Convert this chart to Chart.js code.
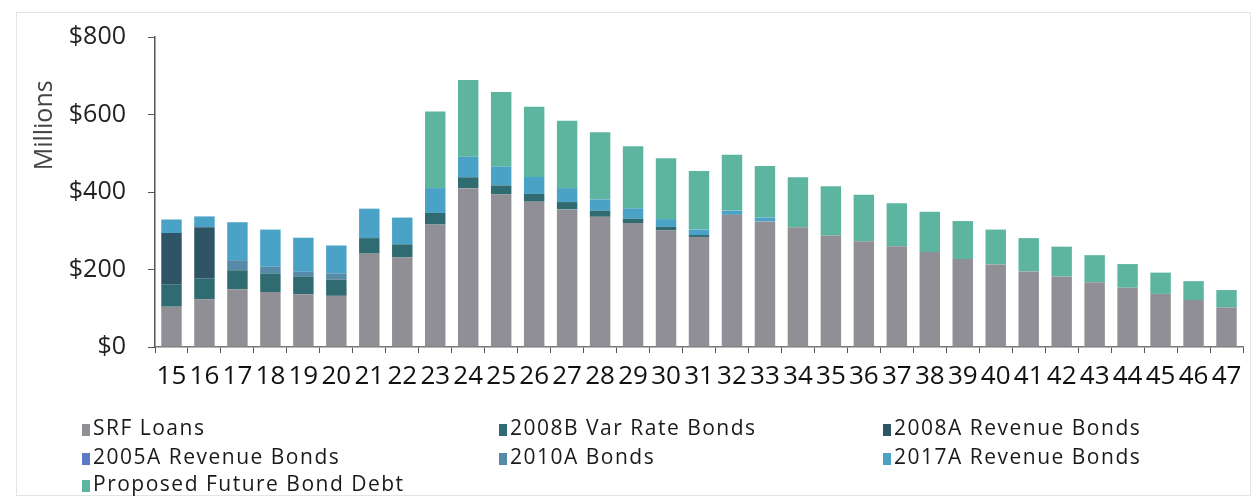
<!DOCTYPE html>
<html>
<head>
<meta charset="utf-8">
<script src="https://cdn.jsdelivr.net/npm/chart.js@4.4.0/dist/chart.umd.min.js"></script>
<style>
    body { margin: 0; background: #fff; }
    .wrap { position: relative; width: 1257px; height: 500px; }
    .frame { position: absolute; left: 16px; top: 12px; right: 6px; bottom: 4px; border: 1px solid #e4e4e4; pointer-events: none; }
    #legend { position: absolute; left: 82px; top: 413px; width: 1160px; font-family: "Open Sans", sans-serif; font-size: 21px; letter-spacing: 1.5px; color: #1a1a1a; }
    #legend .item { position: absolute; white-space: nowrap; }
    #legend .box { display: inline-block; width: 8px; height: 12px; margin-right: 3px; vertical-align: -1px; }
</style>
</head>
<body>
<div class="wrap">
    <canvas id="debtChart" width="1257" height="500"></canvas>
    <div class="frame"></div>
    <div id="legend"></div>
</div>
<script>
// Fiscal years on the x axis
const years = ['15', '16', '17', '18', '19', '20', '21', '22', '23', '24', '25', '26', '27', '28', '29', '30', '31',
    '32', '33', '34', '35', '36', '37', '38', '39', '40', '41', '42', '43', '44', '45', '46', '47'];

// Debt service by source, $ millions
const srfLoans = [104, 123, 149, 142, 136, 132, 241, 231, 316, 410, 394, 375, 355, 336, 320, 301, 284,
    341, 324, 309, 288, 273, 260, 245, 227, 213, 195, 182, 167, 153, 137, 121, 102];
const bonds2008B = [58, 54, 49, 48, 45, 42, 40, 34, 30, 28, 23, 20, 19, 16, 11, 9, 5,
    0, 0, 0, 0, 0, 0, 0, 0, 0, 0, 0, 0, 0, 0, 0, 0];
const bonds2008A = [132, 132, 0, 0, 0, 0, 0, 0, 0, 0, 0, 0, 0, 0, 0, 0, 0,
    0, 0, 0, 0, 0, 0, 0, 0, 0, 0, 0, 0, 0, 0, 0, 0];
const bonds2005A = [0, 0, 0, 0, 0, 0, 0, 0, 0, 0, 0, 0, 0, 0, 0, 0, 0,
    0, 0, 0, 0, 0, 0, 0, 0, 0, 0, 0, 0, 0, 0, 0, 0];
const bonds2010A = [0, 0, 26, 17, 13, 16, 0, 0, 0, 0, 0, 0, 0, 0, 0, 0, 0,
    0, 0, 0, 0, 0, 0, 0, 0, 0, 0, 0, 0, 0, 0, 0, 0];
const bonds2017A = [35, 28, 98, 96, 88, 72, 76, 69, 64, 53, 49, 44, 36, 29, 27, 20, 14,
    11, 10, 0, 0, 0, 0, 0, 0, 0, 0, 0, 0, 0, 0, 0, 0];
const proposedDebt = [0, 0, 0, 0, 0, 0, 0, 0, 198, 198, 192, 181, 174, 173, 160, 157, 151,
    144, 133, 129, 127, 120, 111, 104, 98, 90, 86, 77, 70, 61, 55, 49, 45];

const yTicks = [0, 200, 400, 600, 800];

const fontFamily = '"Open Sans", sans-serif';

// Draws the "Millions" axis title toward the top of the y axis
const axisTitle = {
    id: 'axisTitle',
    afterDraw(chart) {
        const ctx = chart.ctx;
        const y = chart.scales.y.getPixelForValue(572);
        ctx.save();
        ctx.translate(45, y);
        ctx.rotate(-Math.PI / 2);
        ctx.font = '25px ' + fontFamily;
        ctx.fillStyle = '#444';
        ctx.textAlign = 'center';
        ctx.textBaseline = 'middle';
        ctx.fillText('Millions', 0, 0);
        ctx.restore();
    }
};

document.addEventListener('DOMContentLoaded', function() {
    const ctx = document.getElementById('debtChart').getContext('2d');

    const series = [
        { label: 'SRF Loans', data: srfLoans, color: '#8f8f95' },
        { label: '2008B Var Rate Bonds', data: bonds2008B, color: '#2f6b70' },
        { label: '2008A Revenue Bonds', data: bonds2008A, color: '#2f5466' },
        { label: '2005A Revenue Bonds', data: bonds2005A, color: '#5b7bc2' },
        { label: '2010A Bonds', data: bonds2010A, color: '#568ba8' },
        { label: '2017A Revenue Bonds', data: bonds2017A, color: '#4aa2c6' },
        { label: 'Proposed Future Bond Debt', data: proposedDebt, color: '#5db5a0' }
    ];

    new Chart(ctx, {
        type: 'bar',
        data: {
            labels: years,
            datasets: series.map(s => ({
                label: s.label,
                data: s.data,
                backgroundColor: s.color,
                borderWidth: 0,
                barPercentage: 0.62,
                categoryPercentage: 1
            }))
        },
        options: {
            responsive: false,
            animation: false,
            layout: {
                padding: { left: 20, right: 14, top: 36, bottom: 103 }
            },
            plugins: {
                legend: { display: false },
                tooltip: { enabled: false }
            },
            scales: {
                x: {
                    stacked: true,
                    afterFit: s => { s.height = 50; },
                    grid: {
                        offset: true,
                        drawOnChartArea: false,
                        drawTicks: true,
                        tickLength: 6,
                        color: '#555'
                    },
                    border: { color: '#777', width: 1.5 },
                    ticks: {
                        color: '#111',
                        font: { family: fontFamily, size: 26 },
                        padding: 8,
                        maxRotation: 0,
                        autoSkip: false
                    }
                },
                y: {
                    stacked: true,
                    min: 0,
                    max: 800,
                    afterFit: s => { s.width = 135; },
                    afterBuildTicks: s => { s.ticks = yTicks.map(v => ({ value: v })); },
                    grid: {
                        drawOnChartArea: false,
                        drawTicks: true,
                        tickLength: 7,
                        color: '#555'
                    },
                    border: { color: '#555', width: 1.5 },
                    ticks: {
                        color: '#222',
                        font: { family: fontFamily, size: 25 },
                        padding: 22,
                        callback: v => '$' + v
                    }
                }
            }
        },
        plugins: [axisTitle]
    });

    // Legend laid out in three columns like the original
    const legend = document.getElementById('legend');
    const colX = [0, 417, 801];
    const rowY = [0, 29, 56];
    series.forEach((s, i) => {
        const item = document.createElement('div');
        item.className = 'item';
        item.style.left = colX[i % 3] + 'px';
        item.style.top = rowY[Math.floor(i / 3)] + 'px';
        item.innerHTML = '<span class="box" style="background:' + s.color + '"></span>' + s.label;
        legend.appendChild(item);
    });
});
</script>
</body>
</html>
